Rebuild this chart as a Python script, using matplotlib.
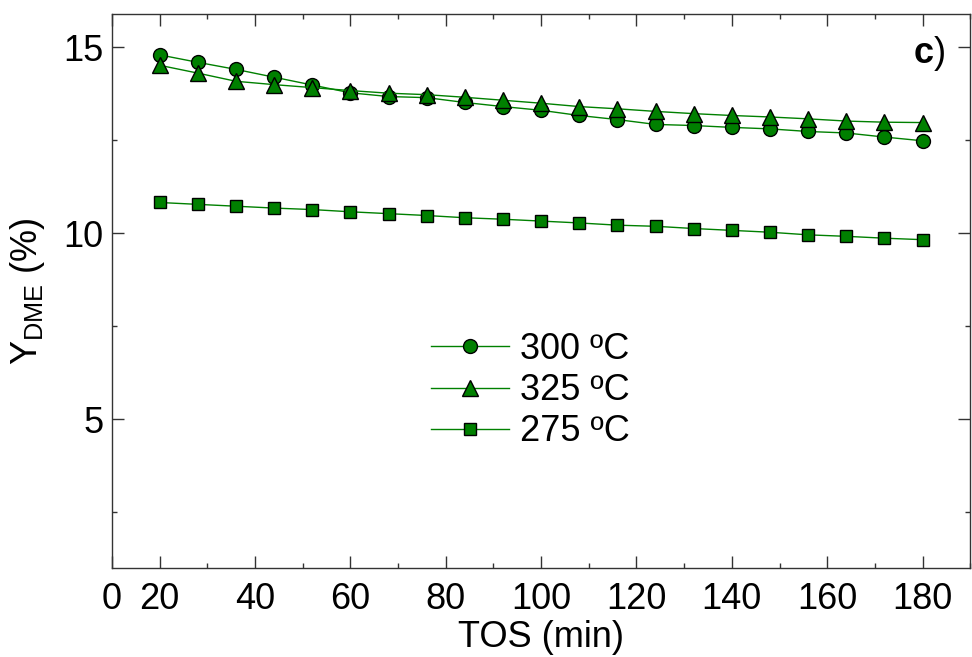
import matplotlib
matplotlib.use('Agg')
import matplotlib.pyplot as plt
from matplotlib.ticker import MultipleLocator

plt.rcParams['font.family'] = ['Liberation Sans', 'DejaVu Sans']
plt.rcParams['mathtext.fontset'] = 'custom'
plt.rcParams['mathtext.rm'] = 'Liberation Sans'
plt.rcParams['mathtext.it'] = 'Liberation Sans'

# TOS (min)
tos = [20, 28, 36, 44, 52, 60, 68, 76, 84, 92, 100,
       108, 116, 124, 132, 140, 148, 156, 164, 172, 180]

# Y_DME (%)
y_300 = [14.80, 14.60, 14.41, 14.20, 13.99, 13.78, 13.68, 13.65, 13.52, 13.41, 13.31,
         13.17, 13.06, 12.93, 12.90, 12.85, 12.81, 12.74, 12.70, 12.59, 12.49]
y_325 = [14.52, 14.31, 14.09, 14.00, 13.92, 13.84, 13.77, 13.73, 13.66, 13.58, 13.50,
         13.41, 13.35, 13.28, 13.22, 13.17, 13.13, 13.08, 13.02, 12.99, 12.98]
y_275 = [10.83, 10.78, 10.73, 10.68, 10.64, 10.58, 10.53, 10.48, 10.42, 10.38, 10.33,
         10.28, 10.22, 10.19, 10.13, 10.08, 10.03, 9.96, 9.92, 9.87, 9.83]

labels = ['300 ºC', '325 ºC', '275 ºC']
xtick_pos = [10, 20, 40, 60, 80, 100, 120, 140, 160, 180]
xtick_lab = ['0', '20', '40', '60', '80', '100', '120', '140', '160', '180']

green = '#008000'

fig = plt.figure(figsize=(9.72, 6.57), dpi=100)
ax = fig.add_axes([0.1152, 0.1355, 0.883, 0.8432])

ax.plot(tos, y_300, '-', color=green, lw=1, marker='o', ms=10,
        mfc=green, mec='black', mew=1, label=labels[0])
ax.plot(tos, y_325, '-', color=green, lw=1, marker='^', ms=11,
        mfc=green, mec='black', mew=1, label=labels[1])
ax.plot(tos, y_275, '-', color=green, lw=1, marker='s', ms=8.5,
        mfc=green, mec='black', mew=1, label=labels[2])

ax.set_xlim(10, 190)
ax.set_ylim(1, 15.9)
ax.set_xticks(xtick_pos)
ax.set_xticklabels(xtick_lab)
ax.xaxis.set_minor_locator(MultipleLocator(10))
ax.set_yticks([5, 10, 15])
ax.yaxis.set_minor_locator(MultipleLocator(2.5))

ax.tick_params(which='both', direction='in', top=True, right=True,
               labelsize=26, color='#333333')
ax.tick_params(which='major', length=8.5, width=1)
ax.tick_params(which='minor', length=3.5, width=1)
ax.tick_params(axis='x', pad=10)
ax.tick_params(axis='y', pad=6)
for s in ax.spines.values():
    s.set_color('#333333')
    s.set_linewidth(1)

ax.set_xlabel('TOS (min)', fontsize=26, labelpad=2)
ax.set_ylabel(r'Y$_{\mathrm{DME}}$ (%)', fontsize=26, labelpad=12)

# panel label: bold "c" with a plain ")"
ax.text(0.957, 0.928, 'c', transform=ax.transAxes, fontsize=26,
        fontweight='bold', ha='right', va='center')
ax.text(0.957, 0.928, ')', transform=ax.transAxes, fontsize=26,
        ha='left', va='center')

ax.legend(loc='center left', bbox_to_anchor=(0.372, 0.32), frameon=False,
          fontsize=26, handlelength=2.15, handletextpad=0.3,
          labelspacing=0.17, borderpad=0, borderaxespad=0)

fig.savefig('out.png', dpi=100)
